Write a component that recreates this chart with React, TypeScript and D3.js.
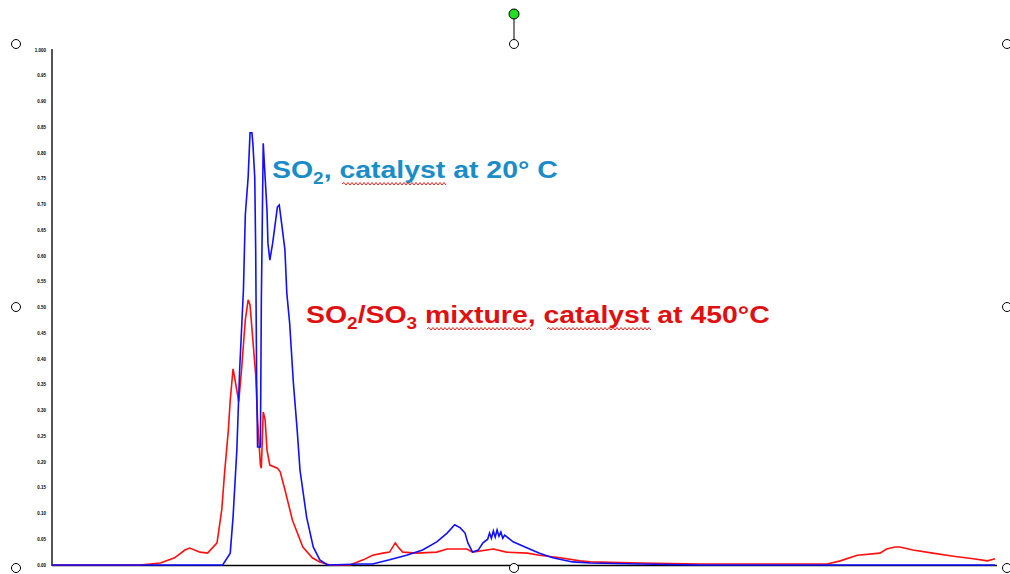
import { useRef, useEffect } from 'react';
import * as d3 from 'd3';

// SO2 at 20 °C (blue trace)
const blueX = [0, 17.8, 18.1, 18.9, 19.2, 19.6, 19.9, 20.3, 20.5, 20.8, 21.0, 21.2, 21.3, 21.5, 21.6, 21.7, 21.8, 22.1, 22.2, 22.4, 22.6, 22.8, 22.9, 23.1, 23.4, 23.9, 24.1, 24.4, 24.7, 24.9, 25.2, 25.6, 26.0, 26.3, 27.0, 27.7, 28.4, 29.2, 32.7, 34.0, 35.8, 37.6, 39.3, 40.8, 41.9, 42.7, 43.3, 43.8, 44.1, 44.6, 45.2, 45.7, 46.2, 46.4, 46.6, 46.8, 47.0, 47.2, 47.4, 47.6, 47.8, 48.0, 48.9, 50.4, 51.7, 53.1, 55.2, 57.1, 62.4, 68.7, 100];
const blueY = [0, 0, 0, 0.023, 0.093, 0.223, 0.379, 0.534, 0.68, 0.753, 0.839, 0.839, 0.819, 0.753, 0.612, 0.359, 0.229, 0.229, 0.515, 0.819, 0.753, 0.689, 0.625, 0.592, 0.625, 0.695, 0.699, 0.656, 0.612, 0.528, 0.47, 0.353, 0.262, 0.184, 0.093, 0.035, 0.01, 0, 0.002, 0.002, 0.01, 0.019, 0.029, 0.045, 0.062, 0.078, 0.072, 0.062, 0.043, 0.025, 0.029, 0.043, 0.05, 0.062, 0.052, 0.066, 0.054, 0.068, 0.056, 0.064, 0.052, 0.058, 0.045, 0.033, 0.023, 0.014, 0.006, 0.004, 0.002, 0, 0];

// SO2/SO3 mixture at 450 °C (red trace)
const redX = [0, 9.3, 11.5, 13.0, 14.1, 14.6, 15.7, 16.5, 17.5, 18.0, 18.3, 18.7, 18.9, 19.2, 19.5, 19.8, 20.1, 20.5, 20.8, 21.0, 21.3, 21.6, 21.8, 22.1, 22.2, 22.4, 22.6, 22.8, 23.1, 23.9, 24.2, 24.7, 25.5, 26.6, 27.6, 28.4, 29.5, 31.6, 33.0, 34.0, 35.1, 35.8, 36.4, 36.7, 37.2, 38.7, 40.8, 41.9, 44.0, 44.6, 46.8, 48.2, 50.4, 51.7, 53.9, 56.0, 57.1, 62.4, 68.7, 77.2, 82.2, 83.6, 85.4, 87.8, 88.5, 89.4, 89.9, 91.3, 93.4, 95.6, 97.7, 99.2, 100];
const redY = [0, 0, 0.004, 0.014, 0.029, 0.033, 0.025, 0.023, 0.043, 0.107, 0.179, 0.262, 0.32, 0.381, 0.35, 0.317, 0.379, 0.476, 0.515, 0.505, 0.437, 0.369, 0.282, 0.194, 0.188, 0.297, 0.282, 0.223, 0.194, 0.188, 0.181, 0.146, 0.087, 0.035, 0.014, 0.006, 0, 0, 0.01, 0.019, 0.023, 0.025, 0.043, 0.035, 0.025, 0.023, 0.025, 0.031, 0.031, 0.025, 0.031, 0.025, 0.023, 0.019, 0.014, 0.008, 0.006, 0.004, 0.002, 0.002, 0.002, 0.008, 0.019, 0.023, 0.031, 0.035, 0.035, 0.029, 0.023, 0.017, 0.012, 0.008, 0.012];

const yTicks = d3.range(0, 21).map((i) => i * 0.05);
const yTickLabels = yTicks.map((t) => (t === 1 ? '1.000' : t.toFixed(2)));

const width = 1010;
const height = 574;
const margin = { top: 50, right: 15, bottom: 9, left: 52 };

// spell-check squiggle under a word
function Wavy({ x0, x1, y }: { x0: number; x1: number; y: number }) {
  let d = `M${x0},${y}`;
  for (let x = x0, up = true; x < x1; x += 2, up = !up) {
    d += ` L${x + 2},${up ? y - 1.5 : y + 1}`;
  }
  return <path d={d} fill="none" stroke="#e02020" strokeWidth={1} />;
}

function App() {
  const svgRef = useRef<SVGSVGElement>(null);

  useEffect(() => {
    const svg = d3.select(svgRef.current);
    svg.selectAll('.chart').remove();

    const x = d3
      .scaleLinear()
      .domain([0, 100])
      .range([margin.left, width - margin.right]);
    const y = d3
      .scaleLinear()
      .domain([0, 1])
      .range([height - margin.bottom, margin.top]);

    const g = svg.insert('g', ':first-child').attr('class', 'chart');

    // x axis baseline
    g.append('line')
      .attr('x1', x(0))
      .attr('x2', x(100) + 2)
      .attr('y1', y(0) + 0.5)
      .attr('y2', y(0) + 0.5)
      .attr('stroke', '#000')
      .attr('stroke-width', 1.5);

    // y axis
    g.append('line')
      .attr('x1', x(0))
      .attr('x2', x(0))
      .attr('y1', y(1) - 1)
      .attr('y2', y(0) + 1)
      .attr('stroke', '#555')
      .attr('stroke-width', 2);

    g.selectAll('.ytick')
      .data(yTicks)
      .enter()
      .append('text')
      .attr('class', 'ytick')
      .attr('x', x(0) - 6)
      .attr('y', (d) => y(d) + 1.5)
      .attr('text-anchor', 'end')
      .attr('font-family', 'Liberation Sans, Arial, sans-serif')
      .attr('font-weight', 'bold')
      .attr('font-size', 4.5)
      .attr('fill', '#000')
      .text((d, i) => yTickLabels[i]);

    const blue = d3
      .line<number>()
      .x((d) => x(d))
      .y((d, i) => y(blueY[i]));
    const red = d3
      .line<number>()
      .x((d) => x(d))
      .y((d, i) => y(redY[i]));

    g.append('path')
      .attr('d', red(redX))
      .attr('fill', 'none')
      .attr('stroke', '#ff1010')
      .attr('stroke-width', 1.6);

    g.append('path')
      .attr('d', blue(blueX))
      .attr('fill', 'none')
      .attr('stroke', '#1010ff')
      .attr('stroke-width', 1.6);

    return () => {
      svg.selectAll('.chart').remove();
    };
  }, []);

  const handles = [
    [16, 44], [514, 44], [1007, 44],
    [16, 307], [1007, 307],
    [16, 568], [514, 568], [1007, 568],
  ];

  const sx = 1.185;

  return (
    <svg
      ref={svgRef}
      width={width}
      height={height}
      style={{ position: 'absolute', left: 0, top: 0, background: '#fff' }}
      fontFamily="Liberation Sans, Arial, sans-serif"
    >
      <g transform={`translate(272,178) scale(${sx},1)`}>
        <text x={0} y={0} fontSize={24} fontWeight="bold" fill="#1a8cc8">
          SO<tspan fontSize={16} dy={6}>2</tspan>
          <tspan dy={-6}>, catalyst at 20° C</tspan>
        </text>
      </g>
      <Wavy x0={342} x1={445} y={184} />
      <g transform={`translate(306,323) scale(${sx},1)`}>
        <text x={0} y={0} fontSize={24} fontWeight="bold" fill="#e01010">
          SO<tspan fontSize={16} dy={6}>2</tspan>
          <tspan dy={-6}>/SO</tspan>
          <tspan fontSize={16} dy={6}>3</tspan>
          <tspan dy={-6}> mixture, catalyst at 450°C</tspan>
        </text>
      </g>
      <Wavy x0={427} x1={530} y={329} />
      <Wavy x0={547} x1={650} y={329} />
      <line x1={514} y1={14} x2={514} y2={44} stroke="#000" strokeWidth={1} />
      <circle cx={514} cy={14} r={5} fill="#22dd22" stroke="#000" strokeWidth={1} />
      {handles.map(([cx, cy], i) => (
        <circle key={i} cx={cx} cy={cy} r={4.5} fill="#fff" stroke="#000" strokeWidth={1} />
      ))}
    </svg>
  );
}

export default App;
